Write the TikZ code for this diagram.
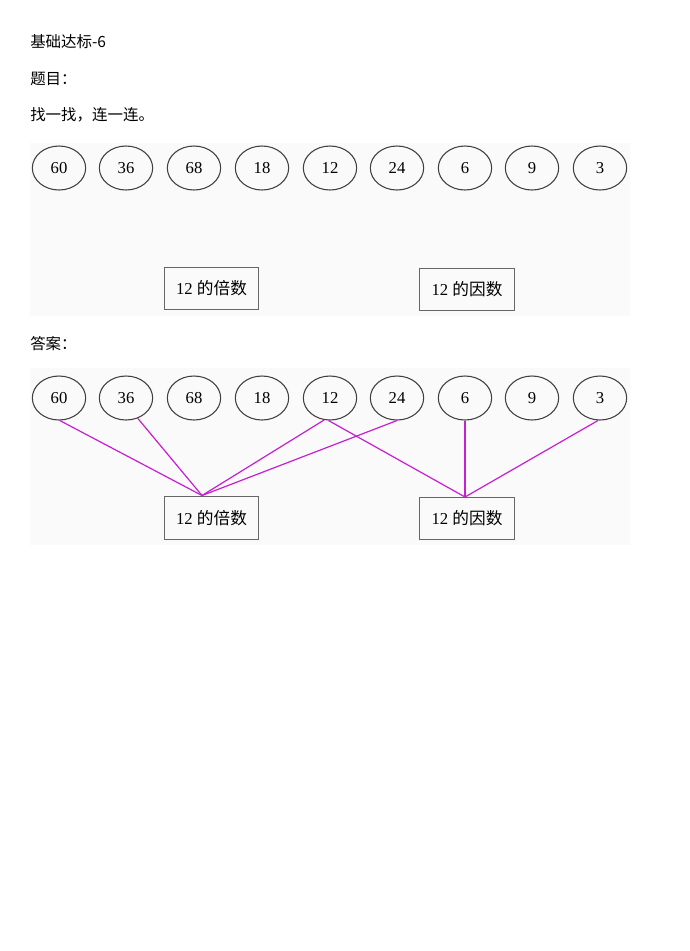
\documentclass[tikz,border=0pt]{standalone}
\usepackage{fontspec}
\setmainfont{Liberation Serif}
\newfontfamily\cjk{Noto Sans CJK SC}
\usetikzlibrary{shapes.geometric}
\definecolor{linkline}{RGB}{200,30,210}
\definecolor{scanbg}{RGB}{250,250,250}
\begin{document}
\begin{tikzpicture}[x=0.75pt, y=-0.75pt,
  num/.style={draw=black!75, line width=0.8pt, ellipse, minimum width=40pt, minimum height=33pt, inner sep=0pt, font=\fontsize{12.5}{12.5}\selectfont},
  sumbox/.style={draw=black!60, line width=0.7pt, rectangle, minimum width=71pt, minimum height=32pt, inner sep=0pt, font=\fontsize{12.5}{12.5}\selectfont},
  link/.style={linkline, line width=0.9pt},
  head/.style={anchor=base west, inner sep=0pt, font=\cjk\fontsize{11.6}{11.6}\selectfont}]
  \useasboundingbox (0,0) rectangle (690,951);
  % the text lines
  \node[head] (t1) at (30,47) {基础达标-6};
  \node[head] (t2) at (30,84) {题目：};
  \node[head] (t3) at (30,120) {找一找，连一连。};
  \node[head] (t4) at (30,349) {答案：};
  % the two scanned parts
  \fill[scanbg] (30,143) rectangle (630,316);
  \fill[scanbg] (30,368) rectangle (630,545);
  % question
  \node[num] (a60) at (59,168) {60};
  \node[num] (a36) at (126,168) {36};
  \node[num] (a68) at (194,168) {68};
  \node[num] (a18) at (262,168) {18};
  \node[num] (a12) at (330,168) {12};
  \node[num] (a24) at (397,168) {24};
  \node[num] (a6) at (465,168) {6};
  \node[num] (a9) at (532,168) {9};
  \node[num] (a3) at (600,168) {3};
  \node[sumbox] (mult) at (211.5,288.5) {12 {\cjk 的倍数}};
  \node[sumbox] (fact) at (467,289.5) {12 {\cjk 的因数}};
  % answer
  \node[num] (b60) at (59,398) {60};
  \node[num] (b36) at (126,398) {36};
  \node[num] (b68) at (194,398) {68};
  \node[num] (b18) at (262,398) {18};
  \node[num] (b12) at (330,398) {12};
  \node[num] (b24) at (397,398) {24};
  \node[num] (b6) at (465,398) {6};
  \node[num] (b9) at (532,398) {9};
  \node[num] (b3) at (600,398) {3};
  \node[sumbox] (multb) at (211.5,518) {12 {\cjk 的倍数}};
  \node[sumbox] (factb) at (467,518.5) {12 {\cjk 的因数}};
  \coordinate (mtop) at (202,495.5);
  \coordinate (ftop) at (465,497);
  % Draw the links
  \draw[link] (b60.272) -- (mtop);
  \draw[link] (b36.300) -- (mtop);
  \draw[link] (b12.255) -- (mtop);
  \draw[link] (b24.south) -- (mtop);
  \draw[link] (b12.266) -- (ftop);
  \draw[link] (b6.south) -- (ftop);
  \draw[link] (b3.265) -- (ftop);
\end{tikzpicture}
\end{document}
